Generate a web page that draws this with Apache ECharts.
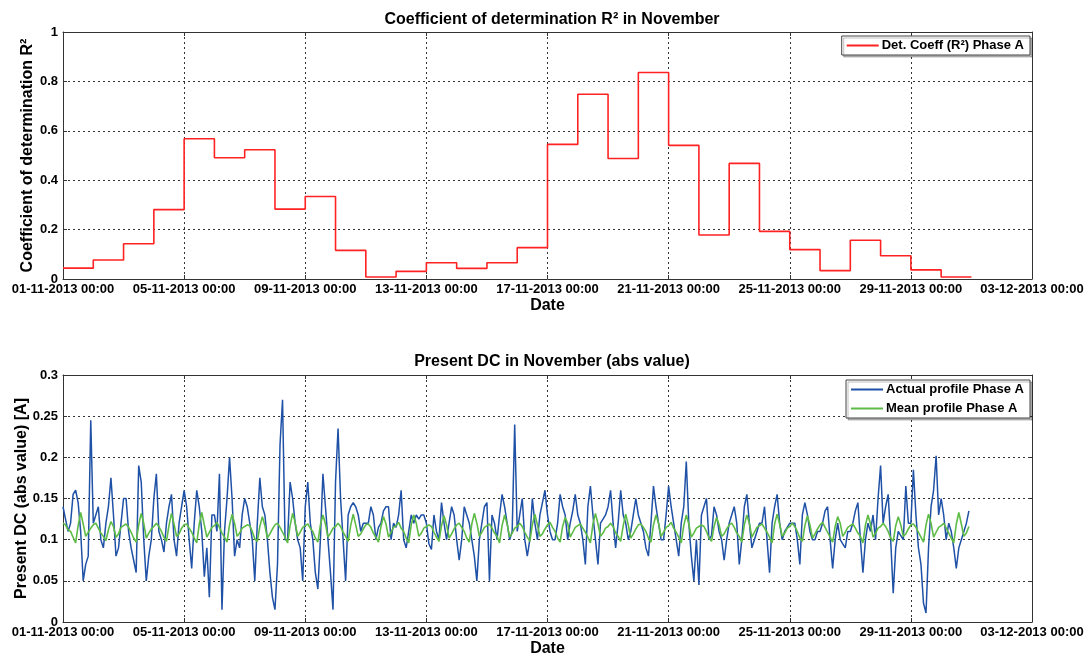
<!DOCTYPE html>
<html><head><meta charset="utf-8">
<script src="https://cdn.jsdelivr.net/npm/echarts@6/dist/echarts.min.js"></script>
<style>html,body{margin:0;padding:0;background:#fff}#c{width:1089px;height:661px}</style>
</head><body><div id="c"></div>
<script>
// ---- Data ----
const xTickLabels = ['01-11-2013 00:00','05-11-2013 00:00','09-11-2013 00:00','13-11-2013 00:00','17-11-2013 00:00','21-11-2013 00:00','25-11-2013 00:00','29-11-2013 00:00','03-12-2013 00:00'];
// daily R² values, 1..30 November
const r2Values = [0.044,0.077,0.143,0.281,0.568,0.491,0.523,0.283,0.334,0.116,0.008,0.031,0.066,0.043,0.066,0.127,0.545,0.748,0.488,0.836,0.541,0.178,0.468,0.193,0.119,0.034,0.157,0.094,0.037,0.008];
// actual profile, 12 readings per day (2-hour steps), 1..30 November
const actualDays = [
 [0.14,0.125,0.11,0.12,0.155,0.16,0.145,0.11,0.05,0.07,0.08,0.245],
 [0.12,0.13,0.14,0.1,0.09,0.12,0.14,0.175,0.13,0.08,0.09,0.12],
 [0.15,0.15,0.11,0.09,0.075,0.06,0.19,0.17,0.1,0.05,0.08,0.1],
 [0.15,0.18,0.11,0.1,0.085,0.12,0.14,0.155,0.1,0.08,0.12,0.14],
 [0.16,0.14,0.1,0.065,0.12,0.16,0.14,0.11,0.055,0.09,0.03,0.13],
 [0.13,0.11,0.18,0.015,0.11,0.15,0.2,0.15,0.08,0.1,0.09,0.13],
 [0.15,0.14,0.12,0.1,0.05,0.12,0.175,0.14,0.13,0.1,0.06,0.03],
 [0.015,0.07,0.215,0.27,0.1,0.1,0.17,0.15,0.12,0.1,0.09,0.05],
 [0.14,0.17,0.12,0.1,0.06,0.04,0.1,0.18,0.14,0.1,0.06,0.015],
 [0.17,0.235,0.15,0.1,0.05,0.13,0.14,0.145,0.14,0.13,0.11,0.12],
 [0.12,0.12,0.14,0.13,0.1,0.115,0.12,0.135,0.14,0.14,0.1,0.12],
 [0.115,0.13,0.16,0.1,0.09,0.11,0.13,0.12,0.13,0.125,0.13,0.13],
 [0.12,0.095,0.088,0.13,0.11,0.1,0.145,0.12,0.1,0.12,0.14,0.13],
 [0.1,0.075,0.1,0.14,0.13,0.12,0.1,0.08,0.05,0.1,0.12,0.14],
 [0.145,0.05,0.13,0.12,0.1,0.13,0.155,0.14,0.12,0.1,0.11,0.24],
 [0.11,0.13,0.15,0.1,0.08,0.1,0.15,0.12,0.1,0.13,0.145,0.16],
 [0.13,0.11,0.1,0.1,0.12,0.155,0.14,0.13,0.1,0.12,0.135,0.155],
 [0.13,0.12,0.1,0.07,0.14,0.165,0.13,0.1,0.07,0.12,0.125,0.13],
 [0.14,0.16,0.12,0.09,0.12,0.16,0.13,0.12,0.1,0.11,0.13,0.15],
 [0.13,0.12,0.11,0.09,0.08,0.12,0.165,0.14,0.12,0.1,0.1,0.13],
 [0.165,0.14,0.12,0.1,0.08,0.12,0.14,0.195,0.12,0.08,0.05,0.1],
 [0.045,0.13,0.14,0.15,0.1,0.105,0.14,0.13,0.11,0.1,0.075,0.1],
 [0.12,0.13,0.14,0.12,0.07,0.1,0.14,0.155,0.12,0.09,0.1,0.11],
 [0.12,0.12,0.14,0.1,0.06,0.12,0.14,0.155,0.12,0.1,0.11,0.115],
 [0.12,0.12,0.12,0.1,0.07,0.13,0.145,0.13,0.11,0.1,0.1,0.11],
 [0.11,0.12,0.135,0.14,0.1,0.065,0.1,0.12,0.1,0.095,0.09,0.11],
 [0.11,0.12,0.135,0.145,0.1,0.06,0.1,0.12,0.11,0.13,0.1,0.15],
 [0.19,0.12,0.14,0.155,0.1,0.035,0.09,0.11,0.105,0.1,0.165,0.12],
 [0.12,0.185,0.13,0.09,0.07,0.023,0.011,0.09,0.14,0.16,0.202,0.13],
 [0.15,0.13,0.1,0.12,0.11,0.09,0.065,0.09,0.1,0.11,0.12,0.135]
];
// mean profile, 12 readings per day (2-hour steps), 1..30 November
const meanDays = [
 [0.12,0.118,0.112,0.11,0.103,0.096,0.117,0.133,0.119,0.104,0.109,0.114],
 [0.118,0.12,0.114,0.108,0.104,0.099,0.112,0.122,0.116,0.103,0.107,0.115],
 [0.117,0.119,0.115,0.109,0.102,0.097,0.118,0.132,0.12,0.102,0.108,0.113],
 [0.116,0.12,0.116,0.11,0.103,0.098,0.117,0.132,0.119,0.104,0.107,0.114],
 [0.118,0.119,0.114,0.109,0.102,0.096,0.119,0.133,0.118,0.103,0.109,0.115],
 [0.117,0.121,0.115,0.108,0.103,0.097,0.118,0.131,0.12,0.104,0.108,0.114],
 [0.116,0.118,0.117,0.11,0.101,0.098,0.116,0.128,0.117,0.102,0.107,0.113],
 [0.118,0.12,0.115,0.109,0.103,0.096,0.117,0.132,0.121,0.104,0.109,0.115],
 [0.117,0.119,0.114,0.11,0.102,0.097,0.118,0.13,0.119,0.103,0.108,0.114],
 [0.116,0.12,0.116,0.109,0.104,0.098,0.117,0.131,0.118,0.104,0.107,0.113],
 [0.118,0.119,0.115,0.108,0.103,0.097,0.116,0.128,0.119,0.103,0.109,0.115],
 [0.117,0.121,0.114,0.11,0.102,0.096,0.118,0.13,0.12,0.104,0.108,0.114],
 [0.116,0.118,0.116,0.109,0.103,0.098,0.117,0.129,0.118,0.102,0.107,0.113],
 [0.118,0.12,0.115,0.11,0.102,0.097,0.119,0.132,0.12,0.104,0.109,0.115],
 [0.117,0.119,0.114,0.108,0.104,0.096,0.117,0.13,0.119,0.103,0.108,0.114],
 [0.116,0.12,0.116,0.109,0.103,0.098,0.118,0.131,0.118,0.104,0.107,0.113],
 [0.118,0.121,0.115,0.11,0.102,0.097,0.116,0.127,0.12,0.103,0.109,0.115],
 [0.117,0.119,0.114,0.109,0.103,0.096,0.119,0.132,0.119,0.104,0.108,0.114],
 [0.116,0.12,0.116,0.108,0.104,0.098,0.117,0.131,0.118,0.102,0.107,0.113],
 [0.118,0.119,0.115,0.11,0.102,0.097,0.118,0.13,0.12,0.104,0.109,0.115],
 [0.117,0.121,0.114,0.109,0.103,0.096,0.117,0.13,0.119,0.103,0.108,0.114],
 [0.116,0.118,0.116,0.11,0.102,0.098,0.116,0.127,0.118,0.104,0.107,0.113],
 [0.118,0.12,0.115,0.108,0.104,0.097,0.118,0.13,0.12,0.103,0.109,0.115],
 [0.117,0.119,0.114,0.109,0.103,0.096,0.119,0.131,0.119,0.104,0.108,0.114],
 [0.116,0.12,0.116,0.11,0.102,0.098,0.117,0.129,0.118,0.102,0.107,0.113],
 [0.118,0.121,0.115,0.109,0.103,0.097,0.116,0.128,0.12,0.104,0.109,0.115],
 [0.117,0.119,0.114,0.108,0.104,0.096,0.118,0.13,0.119,0.103,0.108,0.114],
 [0.116,0.12,0.116,0.11,0.102,0.098,0.117,0.128,0.118,0.104,0.107,0.113],
 [0.118,0.119,0.115,0.109,0.103,0.097,0.118,0.131,0.12,0.103,0.109,0.115],
 [0.117,0.12,0.114,0.108,0.102,0.096,0.119,0.133,0.119,0.104,0.108,0.116]
];

// ---- Build series data (x = days since 01-11-2013 00:00) ----
function dailyToPoints(days){
  const out = [];
  days.forEach((arr, d) => arr.forEach((v, k) => out.push([d + k / arr.length, v])));
  return out;
}
const r2Points = r2Values.map((v, i) => [i, v]);
r2Points.push([r2Values.length, r2Values[r2Values.length - 1]]);

const FONT = "'Liberation Sans', Arial, sans-serif";
const grids = [
  {left: 63, right: 57, top: 32, height: 247, containLabel: false, outerBoundsMode: 'none'},
  {left: 63, right: 57, top: 375, height: 247, containLabel: false, outerBoundsMode: 'none'}
];
function xAx(gi, main){
  return {
    type: 'value', gridIndex: gi, min: 0, max: 32, interval: 4,
    position: main ? 'bottom' : 'top',
    name: main ? 'Date' : '', nameLocation: 'middle', nameGap: 19, nameMoveOverlap: false,
    nameTextStyle: {fontFamily: FONT, fontWeight: 'bold', fontSize: 16, color: '#000'},
    axisLine: {show: true, onZero: false, lineStyle: {color: '#333', width: 1}},
    axisTick: {show: true, inside: true, length: 4, lineStyle: {color: '#333'}},
    axisLabel: {show: main, margin: 4, fontFamily: FONT, fontWeight: 'bold', fontSize: 13, color: '#000',
      formatter: v => xTickLabels[Math.round(v / 4)] || ''},
    splitLine: {show: main, lineStyle: {color: '#333', type: [2, 3], width: 1}}
  };
}
function yAx(gi, main, max, interval, name, gap){
  return {
    type: 'value', gridIndex: gi, min: 0, max: max, interval: interval,
    position: main ? 'left' : 'right',
    name: main ? name : '', nameLocation: 'middle', nameGap: gap, nameRotate: 90, nameMoveOverlap: false,
    nameTextStyle: {fontFamily: FONT, fontWeight: 'bold', fontSize: 16, color: '#000'},
    axisLine: {show: true, onZero: false, lineStyle: {color: '#333', width: 1}},
    axisTick: {show: true, inside: true, length: 4, lineStyle: {color: '#333'}},
    axisLabel: {show: main, margin: 5, fontFamily: FONT, fontWeight: 'bold', fontSize: 13, color: '#000'},
    splitLine: {show: main, lineStyle: {color: '#333', type: [2, 3], width: 1}}
  };
}
const legendCommon = {
  right: 59, orient: 'vertical',
  backgroundColor: '#fff', borderColor: '#444', borderWidth: 1, padding: [3, 6, 3, 5],
  shadowColor: 'rgba(0,0,0,0.25)', shadowOffsetX: 2, shadowOffsetY: 2, shadowBlur: 0,
  icon: 'rect', itemWidth: 32, itemHeight: 2, itemGap: 6,
  textStyle: {fontFamily: FONT, fontWeight: 'bold', fontSize: 13, color: '#000', padding: [0, 0, 0, -2]}
};

const chart = echarts.init(document.getElementById('c'), null, {renderer: 'canvas'});
chart.setOption({
  animation: false,
  backgroundColor: '#fff',
  title: [
    {text: 'Coefficient of determination R² in November', left: 547, top: 7, textAlign: 'center',
     textStyle: {fontFamily: FONT, fontWeight: 'bold', fontSize: 16, color: '#000'}},
    {text: 'Present DC in November (abs value)', left: 547, top: 349, textAlign: 'center',
     textStyle: {fontFamily: FONT, fontWeight: 'bold', fontSize: 16, color: '#000'}}
  ],
  grid: grids,
  xAxis: [xAx(0, true), xAx(1, true), xAx(0, false), xAx(1, false)],
  yAxis: [
    yAx(0, true, 1, 0.2, 'Coefficient of determination R²', 27),
    yAx(1, true, 0.3, 0.05, 'Present DC (abs value) [A]', 33),
    yAx(0, false, 1, 0.2, ''),
    yAx(1, false, 0.3, 0.05, '')
  ],
  legend: [
    Object.assign({data: ['Det. Coeff (R²) Phase A'], top: 36}, legendCommon),
    Object.assign({data: ['Actual profile Phase A', 'Mean profile Phase A'], top: 380}, legendCommon)
  ],
  series: [
    {name: 'Det. Coeff (R²) Phase A', type: 'line', xAxisIndex: 0, yAxisIndex: 0, step: 'end',
     data: r2Points, showSymbol: false, symbol: 'none', color: '#f22',
     lineStyle: {color: '#f22', width: 1.6}},
    {name: 'Actual profile Phase A', type: 'line', xAxisIndex: 1, yAxisIndex: 1,
     data: dailyToPoints(actualDays), showSymbol: false, symbol: 'none', color: '#1f51a6',
     lineStyle: {color: '#1f51a6', width: 1.5}},
    {name: 'Mean profile Phase A', type: 'line', xAxisIndex: 1, yAxisIndex: 1,
     data: dailyToPoints(meanDays), showSymbol: false, symbol: 'none', color: '#5dbb46',
     lineStyle: {color: '#5dbb46', width: 1.6}}
  ]
});
</script></body></html>
